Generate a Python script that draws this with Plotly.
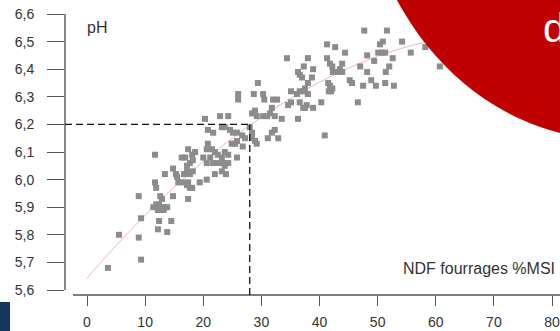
import plotly.graph_objects as go

# ---- data ----
ndf = [3.6, 5.5, 8.9, 9.3, 8.9, 9.3, 11.7, 11.9, 11.7, 11.4, 11.9, 12.4, 12.9, 13.4, 12.2, 12.7, 13.2, 13.8,
       12.4, 12.2, 13.8, 14.5, 14.8, 13.4, 14.8, 15.3, 16.7, 17.2, 17.7, 18.2, 16.5, 17.2, 18.1, 17.7, 17.4,
       17.4, 19.4, 20.6, 22.0, 23.9, 12.6, 12.9, 15.5, 15.7,
       26.0, 26.0, 28.7, 30.3, 30.5, 32.0, 32.7, 28.9, 28.4, 29.2, 31.8, 31.5, 32.3, 33.5, 30.3, 31.0, 20.3,
       22.9, 24.3, 20.8, 21.7, 23.2, 23.7, 24.6, 25.1, 25.8, 26.7, 27.2, 28.0, 28.4, 28.4, 32.3, 31.8, 31.1,
       32.9, 28.9, 29.2, 26.8, 24.9, 25.5, 25.8, 17.4, 16.3, 16.9, 18.1, 18.6, 17.7, 17.2, 18.2, 20.8, 20.6,
       21.5, 22.0, 22.5, 23.2, 23.7, 24.3, 20.0, 20.6, 21.2, 21.7, 22.5, 23.4, 23.7, 23.2, 25.8, 24.3,
       41.3, 42.7, 44.4, 34.4, 38.0, 41.3, 41.8, 42.2, 43.9, 43.5, 38.9, 37.3, 36.3, 36.6, 37.0, 38.7, 38.0,
       42.3, 43.0, 43.9, 41.5, 41.8, 41.6, 42.2, 42.0, 45.2, 45.6, 29.4, 35.1, 36.1, 36.6, 37.2, 37.5, 38.0,
       35.1, 34.6, 36.6, 37.8, 37.5, 37.2, 38.9, 40.3, 36.3, 40.9,
       47.7, 51.6, 54.2, 50.4, 50.9, 48.2, 50.1, 50.8, 51.3, 52.6, 49.4, 55.7, 58.2, 60.7, 47.0, 48.2, 52.0,
       51.4, 48.9, 49.7, 51.3, 52.8, 47.5, 46.6]
ph = [5.68, 5.80, 5.79, 5.86, 5.94, 5.71, 5.99, 5.97, 6.09, 5.90, 5.91, 5.91, 5.90, 5.90, 5.89, 5.89, 5.89, 5.90,
      5.85, 5.82, 5.81, 5.85, 5.94, 6.02, 6.04, 6.02, 6.02, 6.03, 6.02, 6.03, 5.99, 5.98, 5.97, 5.97, 5.99,
      5.93, 5.99, 6.00, 6.02, 6.02, 5.94, 5.93, 6.01, 5.99,
      6.31, 6.29, 6.31, 6.31, 6.29, 6.29, 6.29, 6.25, 6.24, 6.23, 6.26, 6.24, 6.23, 6.22, 6.23, 6.23, 6.22,
      6.23, 6.23, 6.18, 6.17, 6.19, 6.19, 6.18, 6.17, 6.17, 6.16, 6.15, 6.19, 6.17, 6.15, 6.18, 6.17, 6.15,
      6.15, 6.14, 6.13, 6.12, 6.13, 6.13, 6.14, 6.11, 6.08, 6.08, 6.09, 6.10, 6.06, 6.05, 6.07, 6.13, 6.11,
      6.11, 6.10, 6.09, 6.08, 6.10, 6.09, 6.08, 6.06, 6.08, 6.06, 6.06, 6.06, 6.05, 6.03, 6.08, 6.06,
      6.49, 6.48, 6.46, 6.44, 6.44, 6.44, 6.42, 6.41, 6.42, 6.40, 6.40, 6.41, 6.39, 6.38, 6.37, 6.37, 6.35,
      6.39, 6.39, 6.39, 6.35, 6.34, 6.32, 6.33, 6.32, 6.36, 6.35, 6.35, 6.32, 6.31, 6.32, 6.32, 6.33, 6.31,
      6.28, 6.27, 6.28, 6.27, 6.26, 6.26, 6.26, 6.28, 6.22, 6.16,
      6.54, 6.54, 6.50, 6.49, 6.50, 6.45, 6.46, 6.46, 6.46, 6.44, 6.43, 6.46, 6.48, 6.41, 6.41, 6.39, 6.41,
      6.39, 6.36, 6.34, 6.35, 6.34, 6.34, 6.28]

curve_ndf = [0, 5, 10, 15, 20, 25, 30, 35, 40, 45, 50, 55, 60]
curve_ph = [5.643, 5.761, 5.871, 5.973, 6.066, 6.150, 6.226, 6.294, 6.353, 6.404, 6.447, 6.481, 6.506]

x_ticks = [0, 10, 20, 30, 40, 50, 60, 70, 80]
y_ticks = [5.6, 5.7, 5.8, 5.9, 6.0, 6.1, 6.2, 6.3, 6.4, 6.5, 6.6]
ref_ndf = 28
ref_ph = 6.2
y_label = "pH"
x_label = "NDF fourrages %MSI"
banner_text = "d"

# ---- layout geometry (pixels) ----
W, H = 560, 331
L, R, T, B = 65, 0, 5, 36
PW, PH = W - L - R, H - T - B
x_range = [-3.785, 81.376]
y_range = [5.5819, 6.6326]


def pxx(xp):
    return (xp - L) / PW


def pxy(yp):
    return (H - B - yp) / PH


def ydata_to_paper(v):
    return (v - y_range[0]) / (y_range[1] - y_range[0])


FONT = "Liberation Sans, Arial, sans-serif"
AXC = "#555555"
TXC = "#333333"

fig = go.Figure()
fig.add_trace(go.Scatter(x=curve_ndf, y=curve_ph, mode="lines",
                         line=dict(color="#f2b3c5", width=1, shape="spline"),
                         hoverinfo="skip", showlegend=False))
fig.add_trace(go.Scatter(x=ndf, y=ph, mode="markers",
                         marker=dict(symbol="square", size=6, color="#8c8c8c", line=dict(width=0)),
                         showlegend=False))

shapes = [
    # y axis line
    dict(type="line", xref="paper", yref="paper", x0=0, x1=0,
         y0=ydata_to_paper(y_ticks[0]), y1=ydata_to_paper(y_ticks[-1]),
         line=dict(color=AXC, width=1.4)),
    # x axis line
    dict(type="line", xref="paper", yref="paper", x0=pxx(73), x1=1, y0=0, y1=0,
         line=dict(color=AXC, width=1.4)),
    # reference dashed lines
    dict(type="line", xref="x", yref="y", x0=x_range[0], x1=ref_ndf, y0=ref_ph, y1=ref_ph,
         line=dict(color="#111111", width=1.3, dash="7px,4px")),
    dict(type="line", xref="x", yref="y", x0=ref_ndf, x1=ref_ndf, y0=y_range[0], y1=ref_ph,
         line=dict(color="#111111", width=1.3, dash="7px,4px")),
    # red ellipse decoration
    dict(type="circle", xref="paper", yref="paper", x0=pxx(360), x1=pxx(872),
         y0=pxy(140), y1=pxy(-440), fillcolor="#c00000", line=dict(width=0), layer="above"),
    # navy block bottom-left
    dict(type="rect", xref="paper", yref="paper", x0=pxx(0), x1=pxx(10),
         y0=pxy(331), y1=pxy(302), fillcolor="#16375f", line=dict(width=0), layer="above"),
]

annotations = [
    dict(text=y_label, xref="paper", yref="paper", x=pxx(85), y=pxy(27), xanchor="left",
         yanchor="middle", showarrow=False, font=dict(family=FONT, size=16, color=TXC)),
    dict(text=x_label, xref="paper", yref="paper", x=pxx(557), y=pxy(268), xanchor="right",
         yanchor="middle", showarrow=False, font=dict(family=FONT, size=16, color=TXC)),
    dict(text=banner_text, xref="paper", yref="paper", x=pxx(541), y=pxy(28), xanchor="left",
         yanchor="middle", showarrow=False, font=dict(family=FONT, size=41, color="#ffffff")),
]

fig.update_layout(
    width=W, height=H, template="none",
    margin=dict(l=L, r=R, t=T, b=B, pad=0, autoexpand=False),
    paper_bgcolor="white", plot_bgcolor="white",
    separators=", ",
    font=dict(family=FONT, size=14, color=TXC),
    shapes=shapes, annotations=annotations,
    xaxis=dict(range=x_range, tickvals=x_ticks, ticks="outside", ticklen=10, tickwidth=1.3,
               tickcolor=AXC, showline=False, showgrid=False, zeroline=False, automargin=False,
               tickfont=dict(family=FONT, size=14, color=TXC), ticklabelstandoff=4),
    yaxis=dict(range=y_range, tickvals=y_ticks, tickformat=".1f", ticks="outside", ticklen=17,
               tickwidth=1.3, tickcolor=AXC, showline=False, showgrid=False, zeroline=False,
               automargin=False, tickfont=dict(family=FONT, size=14, color=TXC), ticklabelstandoff=10),
    showlegend=False,
)

fig.write_html("out.html", config={"displayModeBar": False},
               post_script="document.body.style.margin='0';document.body.style.overflow='hidden';")
